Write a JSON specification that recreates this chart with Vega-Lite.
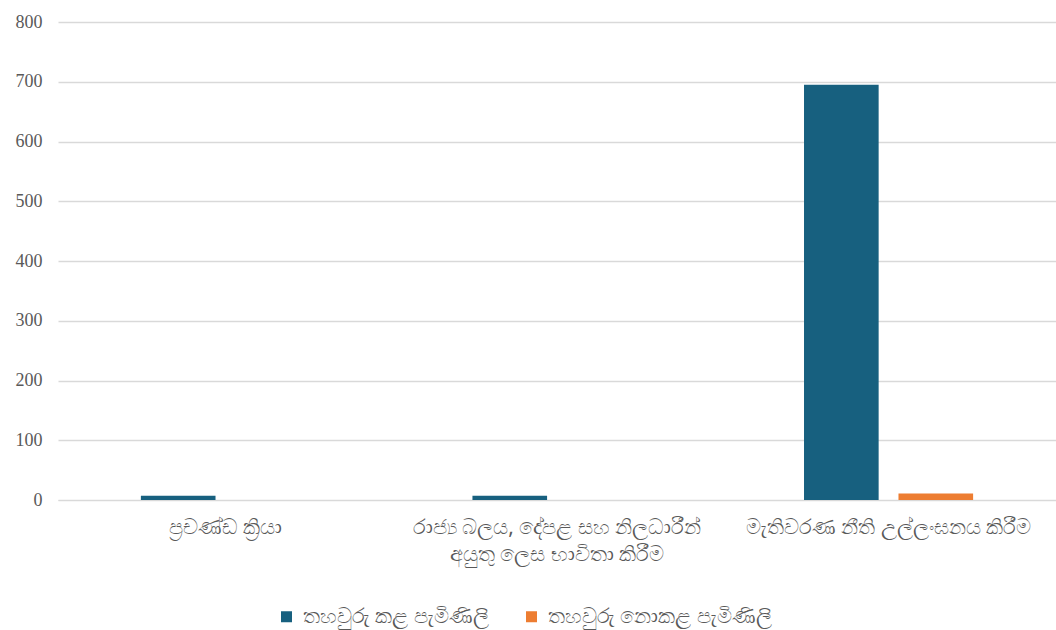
{
  "$schema": "https://vega.github.io/schema/vega-lite/v6.json",
  "width": 998,
  "height": 478,
  "autosize": {"type": "none"},
  "padding": {"left": 58, "top": 22, "right": 0, "bottom": 130},
  "background": "white",
  "data": {
    "values": [
      {"category": "ප්‍රචණ්ඩ ක්‍රියා", "series": "තහවුරු කළ පැමිණිලි", "value": 7},
      {"category": "ප්‍රචණ්ඩ ක්‍රියා", "series": "තහවුරු නොකළ පැමිණිලි", "value": 0},
      {"category": "රාජ්‍ය බලය, දේපළ සහ නිලධාරීන් අයුතු ලෙස භාවිතා කිරීම", "series": "තහවුරු කළ පැමිණිලි", "value": 7},
      {"category": "රාජ්‍ය බලය, දේපළ සහ නිලධාරීන් අයුතු ලෙස භාවිතා කිරීම", "series": "තහවුරු නොකළ පැමිණිලි", "value": 0},
      {"category": "මැතිවරණ නීති උල්ලංඝනය කිරීම", "series": "තහවුරු කළ පැමිණිලි", "value": 695},
      {"category": "මැතිවරණ නීති උල්ලංඝනය කිරීම", "series": "තහවුරු නොකළ පැමිණිලි", "value": 11}
    ]
  },
  "mark": {"type": "bar"},
  "encoding": {
    "x": {
      "field": "category",
      "type": "nominal",
      "sort": null,
      "title": null,
      "scale": {"paddingInner": 0.49, "paddingOuter": 0.25},
      "axis": {
        "labelAngle": 0,
        "ticks": false,
        "domainColor": "#d9d9d9",
        "labelColor": "#595959",
        "labelFont": "Noto Sans",
        "labelFontSize": 21,
        "labelPadding": 16,
        "labelLineHeight": 27,
        "labelLimit": 400,
        "labelExpr": "datum.value == 'රාජ්‍ය බලය, දේපළ සහ නිලධාරීන් අයුතු ලෙස භාවිතා කිරීම' ? ['රාජ්‍ය බලය, දේපළ සහ නිලධාරීන්', 'අයුතු ලෙස භාවිතා කිරීම'] : datum.value"
      }
    },
    "xOffset": {"field": "series", "type": "nominal", "sort": null, "scale": {"paddingInner": 0.21}},
    "y": {
      "field": "value",
      "type": "quantitative",
      "title": null,
      "scale": {"domain": [0, 800]},
      "axis": {
        "values": [0, 100, 200, 300, 400, 500, 600, 700, 800],
        "domain": false,
        "ticks": false,
        "gridColor": "#d9d9d9",
        "gridWidth": 1.5,
        "labelColor": "#595959",
        "labelFont": "Liberation Serif",
        "labelFontSize": 18,
        "labelPadding": 16
      }
    },
    "color": {
      "field": "series",
      "type": "nominal",
      "sort": null,
      "title": null,
      "scale": {"range": ["#17607f", "#ed7d31"]},
      "legend": {
        "orient": "none",
        "legendX": 218,
        "legendY": 584,
        "direction": "horizontal",
        "symbolType": "square",
        "symbolSize": 121,
        "symbolStrokeWidth": 0,
        "labelColor": "#595959",
        "labelFont": "Noto Sans",
        "labelFontSize": 21,
        "labelOffset": 6,
        "columnPadding": 32,
        "labelLimit": 300
      }
    }
  },
  "config": {"view": {"stroke": null}}
}
